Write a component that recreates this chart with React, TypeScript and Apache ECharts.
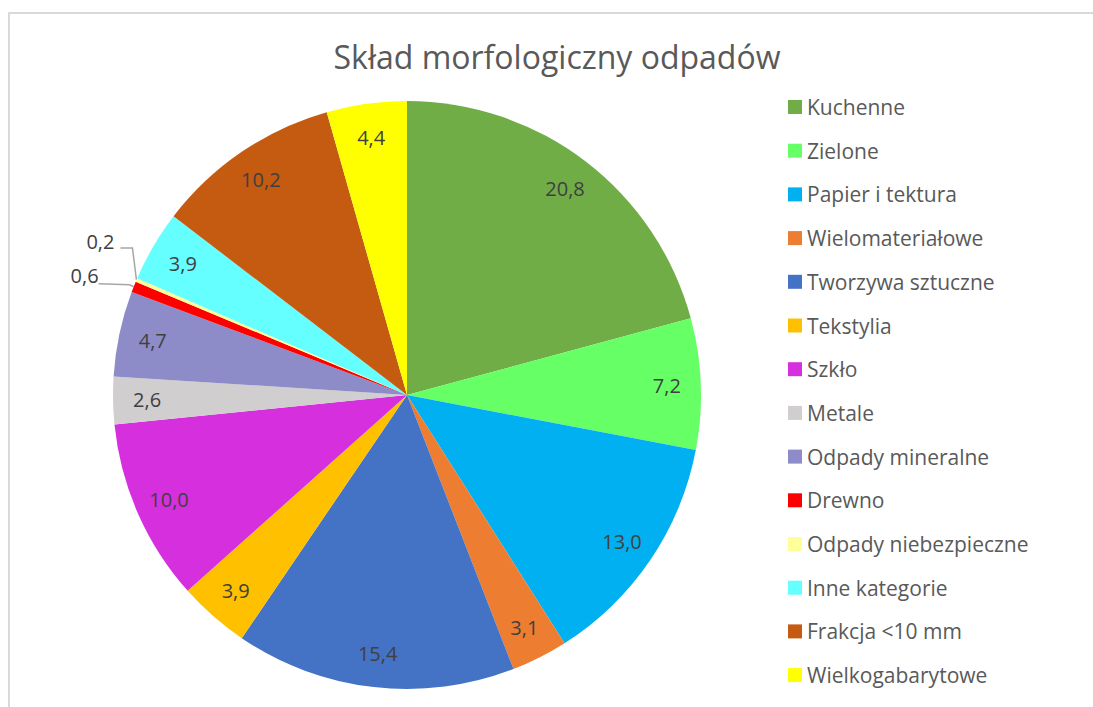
import React, { useEffect, useRef } from "react";
import * as echarts from "echarts";

const TITLE = "Skład morfologiczny odpadów";
const categories = [
  "Kuchenne",
  "Zielone",
  "Papier i tektura",
  "Wielomateriałowe",
  "Tworzywa sztuczne",
  "Tekstylia",
  "Szkło",
  "Metale",
  "Odpady mineralne",
  "Drewno",
  "Odpady niebezpieczne",
  "Inne kategorie",
  "Frakcja <10 mm",
  "Wielkogabarytowe",
];
const values = [20.8, 7.2, 13.0, 3.1, 15.4, 3.9, 10.0, 2.6, 4.7, 0.6, 0.2, 3.9, 10.2, 4.4];
const colors = [
  "#70AD47",
  "#66FF66",
  "#00B0F0",
  "#ED7D31",
  "#4472C4",
  "#FFC000",
  "#D62FDE",
  "#D0CECE",
  "#8E8CC8",
  "#FF0000",
  "#FFFF99",
  "#66FFFF",
  "#C55A11",
  "#FFFF00",
];
const outsideLabelNames = ["Drewno", "Odpady niebezpieczne"];

const FONT = "'Open Sans', 'Noto Sans', sans-serif";
const fmt = (v: number) => v.toFixed(1).replace(".", ",");

export default function App() {
  const ref = useRef<HTMLDivElement>(null);
  useEffect(() => {
    if (!ref.current) return;
    const chart = echarts.init(ref.current, undefined, { renderer: "svg" });
    const center = [407, 395];
    const R = 294;

    const baseData = categories.map((name, i) => ({
      name,
      value: values[i],
      itemStyle: { color: colors[i] },
    }));

    const labelData = categories.map((name, i) => {
      const outside = outsideLabelNames.includes(name);
      return {
        name,
        value: values[i],
        itemStyle: { color: "rgba(0,0,0,0)" },
        label: outside ? { show: false } : { show: true, position: "inside" },
      };
    });

    const outsideData = categories.map((name, i) => {
      const outside = outsideLabelNames.includes(name);
      return {
        name,
        value: values[i],
        itemStyle: { color: "rgba(0,0,0,0)" },
        label: { show: outside },
        labelLine: outside ? { show: true, length: 6, length2: 10 } : { show: false },
      };
    });

    // leader-line shapes relative to the slice edge point that ECharts computes
    const leaderOffsets: Record<string, { pts: number[][]; lx: number; ly: number }> = {
      "Drewno": { pts: [[-4, -2], [-35, -3]], lx: -35, ly: -11 },
      "Odpady niebezpieczne": { pts: [[-4, -32], [-16, -32]], lx: -22, ly: -38 },
    };

    chart.setOption({
      animation: false,
      backgroundColor: "#ffffff",
      title: {
        text: TITLE,
        left: 552,
        top: 35,
        textAlign: "center",
        textStyle: {
          fontFamily: FONT,
          fontSize: 32,
          fontWeight: "normal",
          color: "#595959",
        },
      },
      legend: {
        orient: "vertical",
        left: 783,
        top: 91.5,
        itemWidth: 14,
        itemHeight: 14,
        itemGap: 22.7,
        icon: "rect",
        data: categories,
        textStyle: {
          fontFamily: FONT,
          fontSize: 21,
          lineHeight: 21,
          color: "#595959",
        },
      },
      graphic: [
        {
          type: "rect",
          shape: { x: 9, y: 13, width: 1200, height: 800 },
          style: { fill: "none", stroke: "#D9D9D9", lineWidth: 2 },
          silent: true,
          z: -10,
        },
      ],
      series: [
        {
          type: "pie",
          center,
          radius: [0, R],
          startAngle: 90,
          clockwise: true,
          label: { show: false },
          labelLine: { show: false },
          emphasis: { disabled: true },
          itemStyle: { borderWidth: 0 },
          data: baseData,
        },
        {
          type: "pie",
          center,
          radius: [220, R],
          startAngle: 90,
          clockwise: true,
          silent: true,
          emphasis: { disabled: true },
          label: {
            show: true,
            position: "inside",
            formatter: (p: any) => fmt(p.value),
            fontFamily: FONT,
            fontSize: 20,
            color: "#404040",
          },
          labelLine: { show: false },
          data: labelData,
        },
        {
          type: "pie",
          center,
          radius: [0, R],
          startAngle: 90,
          clockwise: true,
          silent: true,
          emphasis: { disabled: true },
          avoidLabelOverlap: false,
          label: {
            position: "outside",
            formatter: (p: any) => fmt(p.value),
            fontFamily: FONT,
            fontSize: 20,
            color: "#404040",
          },
          labelLine: {
            lineStyle: { color: "#A6A6A6", width: 1.5 },
          },
          labelLayout: (params: any) => {
            const name = categories[params.dataIndex];
            const off = leaderOffsets[name];
            const pts = params.labelLinePoints;
            if (!off || !pts || !pts.length) return {};
            const p0 = pts[0];
            return {
              x: p0[0] + off.lx,
              y: p0[1] + off.ly,
              align: "right",
              verticalAlign: "middle",
              labelLinePoints: [
                [p0[0], p0[1]],
                [p0[0] + off.pts[0][0], p0[1] + off.pts[0][1]],
                [p0[0] + off.pts[1][0], p0[1] + off.pts[1][1]],
              ],
            };
          },
          data: outsideData,
        },
      ],
    });
    return () => chart.dispose();
  }, []);
  return (
    <div
      ref={ref}
      style={{ position: "fixed", left: 0, top: 0, width: 1093, height: 707 }}
    />
  );
}
